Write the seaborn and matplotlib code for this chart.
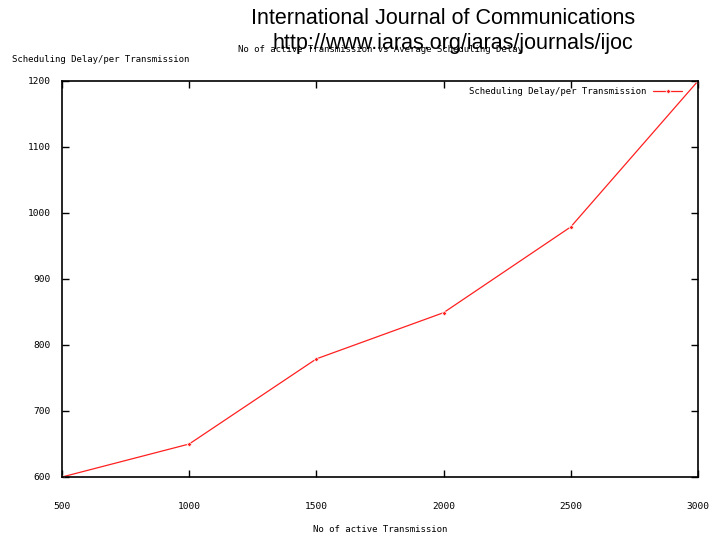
import matplotlib
matplotlib.use("Agg")
import matplotlib.pyplot as plt
import seaborn as sns
import pandas as pd

x_vals = [500, 1000, 1500, 2000, 2500, 3000]
delay = [600, 650, 779, 849, 979, 1200]
x_ticks = [500, 1000, 1500, 2000, 2500, 3000]
y_ticks = [600, 700, 800, 900, 1000, 1100, 1200]

df = pd.DataFrame({"n": x_vals, "delay": delay})

sns.set_style("white")
plt.rcParams['font.family'] = ['DejaVu Sans Mono']
plt.rcParams['text.color'] = 'black'
plt.rcParams['xtick.color'] = 'black'
plt.rcParams['ytick.color'] = 'black'
plt.rcParams['xtick.labelcolor'] = 'black'
plt.rcParams['ytick.labelcolor'] = 'black'

fig = plt.figure(figsize=(7.23, 5.39), dpi=100)
ax = fig.add_axes([62/723, 1-477/539, (698-62)/723, (477-81)/539])
sns.lineplot(data=df, x="n", y="delay", ax=ax, color="#ff2020", linewidth=0.9,
             marker="D", markersize=2.5, markeredgewidth=0.5,
             label="Scheduling Delay/per Transmission")
ax.set_xlim(500, 3000)
ax.set_ylim(600, 1200)
ax.set_xticks(x_ticks)
ax.set_yticks(y_ticks)
ax.set_xticklabels([str(v) for v in x_ticks], fontsize=6.8)
ax.set_yticklabels([str(v) for v in y_ticks], fontsize=6.8)
ax.tick_params(axis='x', direction='in', length=5, width=1, pad=18, top=True, bottom=True)
ax.tick_params(axis='y', direction='in', length=5, width=1, pad=8, left=True, right=True)
for s in ax.spines.values():
    s.set_color('black')
    s.set_linewidth(1.2)
ax.set_xlabel("")
ax.set_ylabel("")
leg = ax.legend(loc='upper right', frameon=False, fontsize=6.5, markerfirst=False,
                handlelength=3.2, borderaxespad=0.3, bbox_to_anchor=(0.985, 1.0))
for t in leg.get_texts():
    t.set_color('black')

fig.text(380/723, 1-530/539, "No of active Transmission", ha='center', va='center', fontsize=6.5)
fig.text(12/723, 1-60/539, "Scheduling Delay/per Transmission", ha='left', va='center', fontsize=6.5)
fig.text(380/723, 1-50/539, "No of active Transmission vs Average Scheduling Delay",
         ha='center', va='center', fontsize=6.5)
fig.text(443/723, 1-18/539, "International Journal of Communications", ha='center', va='center',
         fontsize=15.5, family='Liberation Sans')
fig.text(453/723, 1-44/539, "http://www.iaras.org/iaras/journals/ijoc", ha='center', va='center',
         fontsize=15.5, family='Liberation Sans')

fig.savefig("out.png", dpi=100)
